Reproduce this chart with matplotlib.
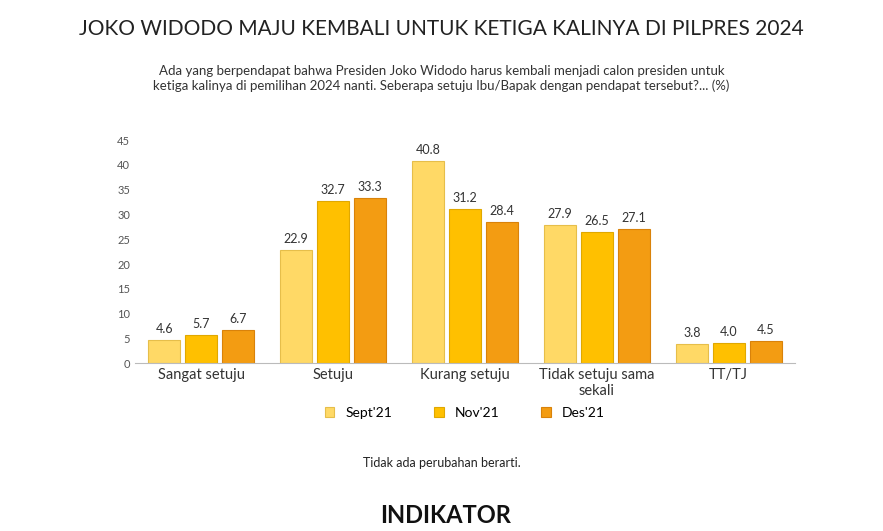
import numpy as np
import matplotlib.pyplot as plt

categories = ["Sangat setuju", "Setuju", "Kurang setuju", "Tidak setuju sama\nsekali", "TT/TJ"]
series_names = ["Sept'21", "Nov'21", "Des'21"]
sept = [4.6, 22.9, 40.8, 27.9, 3.8]
nov = [5.7, 32.7, 31.2, 26.5, 4.0]
des = [6.7, 33.3, 28.4, 27.1, 4.5]
yticks = [0, 5, 10, 15, 20, 25, 30, 35, 40, 45]

colors = ["#FFD966", "#FFC000", "#F39C12"]
edges = ["#E6BE4A", "#E0A800", "#D9820A"]

plt.rcParams["font.family"] = "Lato"
fig = plt.figure(figsize=(8.83, 5.31), dpi=100)
ax = fig.add_axes([0.153, 0.316, 0.747, 0.42])

x = np.arange(len(categories))
w = 0.24
for i, vals in enumerate([sept, nov, des]):
    pos = x + (i - 1) * (w + 0.04)
    bars = ax.bar(pos, vals, w, color=colors[i], edgecolor=edges[i], linewidth=0.8, label=series_names[i])
    for b, v in zip(bars, vals):
        ax.text(b.get_x() + b.get_width() / 2, v + 1, f"{v:.1f}", ha="center", va="bottom", fontsize=9, color="#333333")

ax.set_ylim(0, 45)
ax.set_yticks(yticks)
ax.tick_params(axis="y", length=0, labelsize=8, colors="#555555")
ax.tick_params(axis="x", length=0, labelsize=10.5, colors="#333333")
ax.set_xticks(x)
ax.set_xticklabels(categories)
ax.set_xlim(-0.5, 4.5)
for s in ["top", "right", "left"]:
    ax.spines[s].set_visible(False)
ax.spines["bottom"].set_color("#BBBBBB")

ax.legend(loc="upper center", bbox_to_anchor=(0.5, -0.14), ncol=3, frameon=False, fontsize=10,
          handlelength=0.7, handleheight=0.7, columnspacing=3)

fig.text(0.5, 0.935, "JOKO WIDODO MAJU KEMBALI UNTUK KETIGA KALINYA DI PILPRES 2024",
         ha="center", fontsize=15, color="#222222")
fig.text(0.5, 0.83, "Ada yang berpendapat bahwa Presiden Joko Widodo harus kembali menjadi calon presiden untuk\n"
         "ketiga kalinya di pemilihan 2024 nanti. Seberapa setuju Ibu/Bapak dengan pendapat tersebut?... (%)",
         ha="center", fontsize=9.5, color="#333333", linespacing=1.3)
fig.text(0.5, 0.12, "Tidak ada perubahan berarti.", ha="center", fontsize=9, color="#222222")
fig.text(0.505, 0.015, "INDIKATOR", ha="center", fontsize=17, fontweight="bold", color="#111111")

fig.savefig("out.png", dpi=100)
